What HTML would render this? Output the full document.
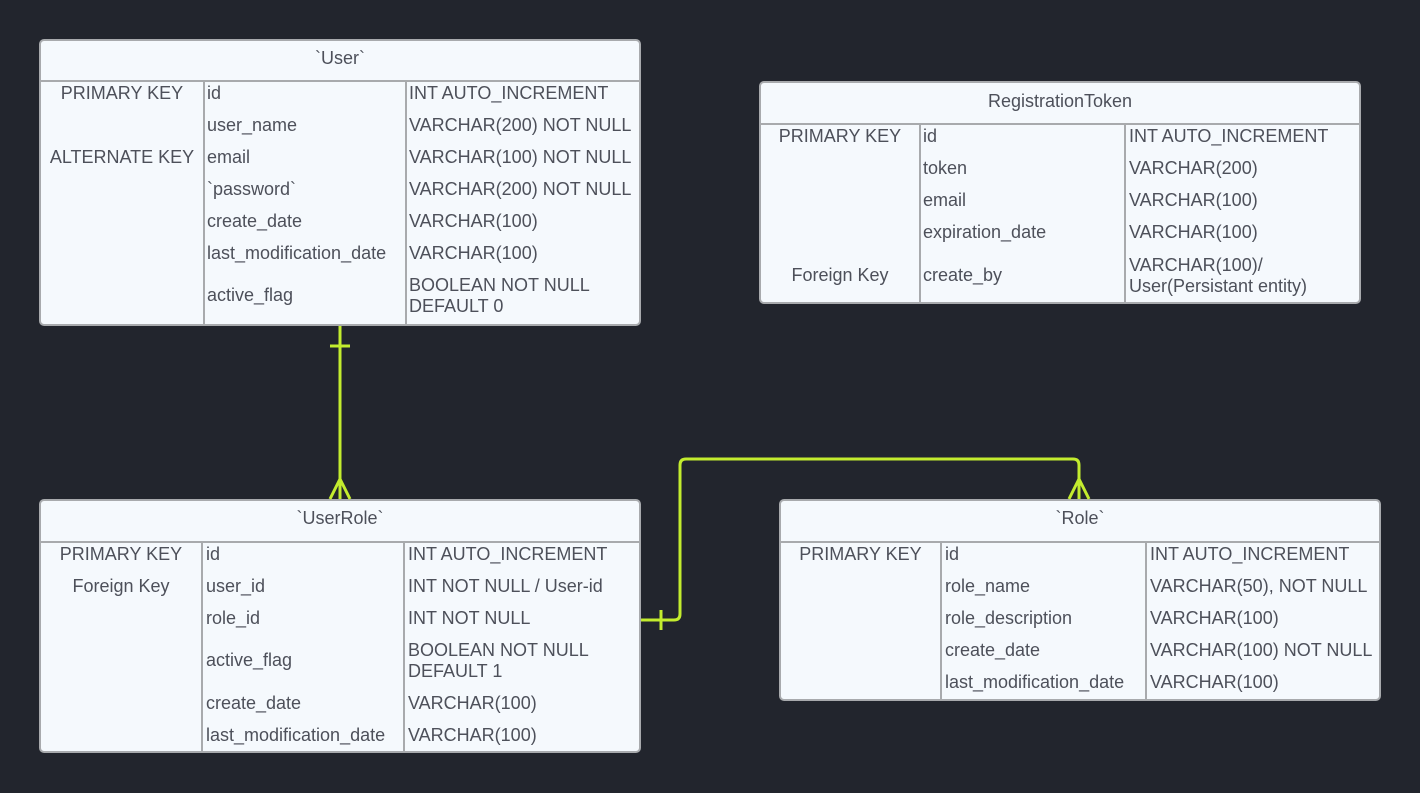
<!DOCTYPE html>
<html><head><meta charset="utf-8">
<style>
html,body{margin:0;padding:0;width:1420px;height:793px;background:#22252d;overflow:hidden;font-family:"Liberation Sans",Arial,sans-serif;}
.t{position:absolute;background:#f5f9fd;border:2px solid #a8aaad;border-radius:5px;box-sizing:border-box;}
.hl{position:absolute;left:0;right:0;height:2px;background:#a8aaad;}
.vl{position:absolute;width:2px;background:#a8aaad;bottom:0;}
.x{position:absolute;font-size:18px;line-height:21px;color:#4d505a;white-space:nowrap;}
.c{text-align:center;}
svg{position:absolute;left:0;top:0;}
</style></head><body>

<!-- User -->
<div class="t" style="left:39px;top:39px;width:602px;height:287px;">
<div class="hl" style="top:39px"></div>
<div class="vl" style="left:162px;top:40px"></div>
<div class="vl" style="left:364px;top:40px"></div>
<div class="x c" style="left:0;width:598px;top:7px">`User`</div>
<div class="x c" style="left:0;width:162px;top:42px">PRIMARY KEY</div>
<div class="x c" style="left:0;width:162px;top:106px">ALTERNATE KEY</div>
<div class="x" style="left:166px;top:42px">id</div>
<div class="x" style="left:166px;top:74px">user_name</div>
<div class="x" style="left:166px;top:106px">email</div>
<div class="x" style="left:166px;top:138px">`password`</div>
<div class="x" style="left:166px;top:170px">create_date</div>
<div class="x" style="left:166px;top:202px">last_modification_date</div>
<div class="x" style="left:166px;top:244px">active_flag</div>
<div class="x" style="left:368px;top:42px">INT AUTO_INCREMENT</div>
<div class="x" style="left:368px;top:74px">VARCHAR(200) NOT NULL</div>
<div class="x" style="left:368px;top:106px">VARCHAR(100) NOT NULL</div>
<div class="x" style="left:368px;top:138px">VARCHAR(200) NOT NULL</div>
<div class="x" style="left:368px;top:170px">VARCHAR(100)</div>
<div class="x" style="left:368px;top:202px">VARCHAR(100)</div>
<div class="x" style="left:368px;top:234px">BOOLEAN NOT NULL<br>DEFAULT 0</div>
</div>

<!-- RegistrationToken -->
<div class="t" style="left:759px;top:81px;width:602px;height:223px;">
<div class="hl" style="top:40px"></div>
<div class="vl" style="left:158px;top:41px"></div>
<div class="vl" style="left:363px;top:41px"></div>
<div class="x c" style="left:0;width:598px;top:8px">RegistrationToken</div>
<div class="x c" style="left:0;width:158px;top:43px">PRIMARY KEY</div>
<div class="x c" style="left:0;width:158px;top:182px">Foreign Key</div>
<div class="x" style="left:162px;top:43px">id</div>
<div class="x" style="left:162px;top:75px">token</div>
<div class="x" style="left:162px;top:107px">email</div>
<div class="x" style="left:162px;top:139px">expiration_date</div>
<div class="x" style="left:162px;top:182px">create_by</div>
<div class="x" style="left:368px;top:43px">INT AUTO_INCREMENT</div>
<div class="x" style="left:368px;top:75px">VARCHAR(200)</div>
<div class="x" style="left:368px;top:107px">VARCHAR(100)</div>
<div class="x" style="left:368px;top:139px">VARCHAR(100)</div>
<div class="x" style="left:368px;top:172px">VARCHAR(100)/<br>User(Persistant entity)</div>
</div>

<!-- UserRole -->
<div class="t" style="left:39px;top:499px;width:602px;height:254px;">
<div class="hl" style="top:40px"></div>
<div class="vl" style="left:160px;top:41px"></div>
<div class="vl" style="left:362px;top:41px"></div>
<div class="x c" style="left:0;width:598px;top:7px">`UserRole`</div>
<div class="x c" style="left:0;width:160px;top:43px">PRIMARY KEY</div>
<div class="x c" style="left:0;width:160px;top:75px">Foreign Key</div>
<div class="x" style="left:165px;top:43px">id</div>
<div class="x" style="left:165px;top:75px">user_id</div>
<div class="x" style="left:165px;top:107px">role_id</div>
<div class="x" style="left:165px;top:149px">active_flag</div>
<div class="x" style="left:165px;top:192px">create_date</div>
<div class="x" style="left:165px;top:224px">last_modification_date</div>
<div class="x" style="left:367px;top:43px">INT AUTO_INCREMENT</div>
<div class="x" style="left:367px;top:75px">INT NOT NULL / User-id</div>
<div class="x" style="left:367px;top:107px">INT NOT NULL</div>
<div class="x" style="left:367px;top:139px">BOOLEAN NOT NULL<br>DEFAULT 1</div>
<div class="x" style="left:367px;top:192px">VARCHAR(100)</div>
<div class="x" style="left:367px;top:224px">VARCHAR(100)</div>
</div>

<!-- Role -->
<div class="t" style="left:779px;top:499px;width:602px;height:202px;">
<div class="hl" style="top:40px"></div>
<div class="vl" style="left:159px;top:41px"></div>
<div class="vl" style="left:364px;top:41px"></div>
<div class="x c" style="left:0;width:598px;top:7px">`Role`</div>
<div class="x c" style="left:0;width:159px;top:43px">PRIMARY KEY</div>
<div class="x" style="left:164px;top:43px">id</div>
<div class="x" style="left:164px;top:75px">role_name</div>
<div class="x" style="left:164px;top:107px">role_description</div>
<div class="x" style="left:164px;top:139px">create_date</div>
<div class="x" style="left:164px;top:171px">last_modification_date</div>
<div class="x" style="left:369px;top:43px">INT AUTO_INCREMENT</div>
<div class="x" style="left:369px;top:75px">VARCHAR(50), NOT NULL</div>
<div class="x" style="left:369px;top:107px">VARCHAR(100)</div>
<div class="x" style="left:369px;top:139px">VARCHAR(100) NOT NULL</div>
<div class="x" style="left:369px;top:171px">VARCHAR(100)</div>
</div>

<svg width="1420" height="793" viewBox="0 0 1420 793">
<g stroke="#c3ec2e" stroke-width="3" fill="none">
<line x1="340" y1="326" x2="340" y2="499"/>
<line x1="330" y1="346" x2="350" y2="346"/>
<line x1="340" y1="479" x2="330" y2="499"/>
<line x1="340" y1="479" x2="350" y2="499"/>
<path d="M641 620 H674 Q680 620 680 614 V465 Q680 459 686 459 H1073 Q1079 459 1079 465 V499"/>
<line x1="661" y1="610" x2="661" y2="630"/>
<line x1="1079" y1="479" x2="1069" y2="499"/>
<line x1="1079" y1="479" x2="1089" y2="499"/>
</g>
</svg>
</body></html>
